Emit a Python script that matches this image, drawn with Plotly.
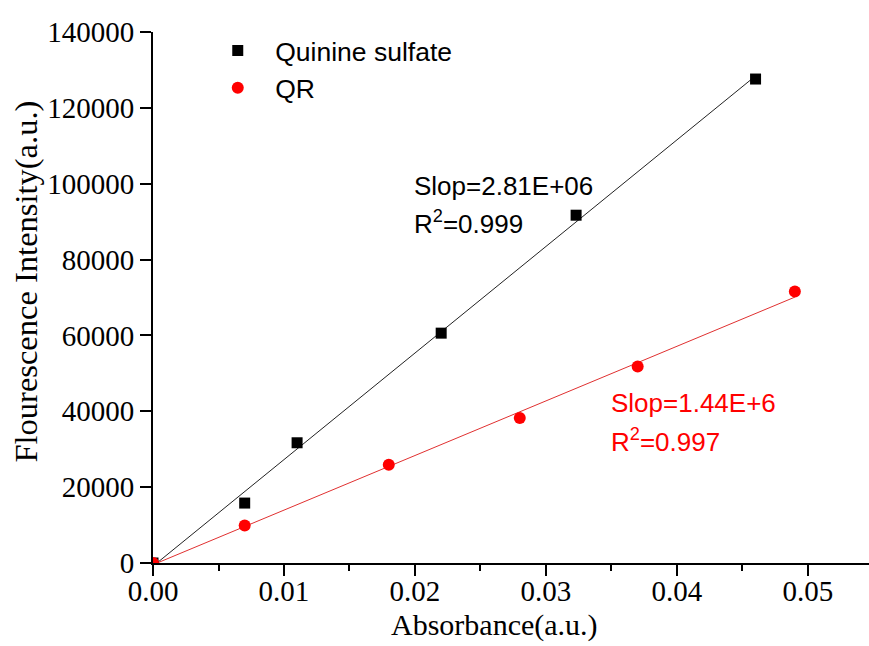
import numpy as np
import plotly.graph_objects as go

# Quinine sulfate reference standard
qs_abs = [0.0, 0.007, 0.011, 0.022, 0.0323, 0.046]
qs_int = [0, 15800, 31700, 60600, 91700, 127600]
qs_slope = 2.81e6
qs_r2 = 0.999

# QR sample
qr_abs = [0.0, 0.007, 0.018, 0.028, 0.037, 0.049]
qr_int = [0, 9900, 25900, 38200, 51800, 71600]
qr_slope = 1.44e6
qr_r2 = 0.997

x_ticks = [0.00, 0.01, 0.02, 0.03, 0.04, 0.05]
y_ticks = [0, 20000, 40000, 60000, 80000, 100000, 120000, 140000]

SERIF = "Liberation Serif"
SANS = "Liberation Sans"
RED = "#ff0000"


def fit_line(xs, ys, slope):
    """Line with the stated slope, intercept by least squares, over the data span."""
    xs = np.asarray(xs, float)
    ys = np.asarray(ys, float)
    b = ys.mean() - slope * xs.mean()
    xl = np.array([xs.min(), xs.max()])
    return xl, slope * xl + b


fig = go.Figure()

lx, ly = fit_line(qs_abs, qs_int, qs_slope)
fig.add_trace(go.Scatter(x=lx, y=ly, mode="lines", line=dict(color="#222222", width=1),
                         showlegend=False, hoverinfo="skip"))
lx, ly = fit_line(qr_abs, qr_int, qr_slope)
fig.add_trace(go.Scatter(x=lx, y=ly, mode="lines", line=dict(color="#e03030", width=1),
                         showlegend=False, hoverinfo="skip"))

fig.add_trace(go.Scatter(x=qs_abs, y=qs_int, mode="markers", name="Quinine sulfate",
                         marker=dict(symbol="square", size=11, color="black")))
fig.add_trace(go.Scatter(x=qr_abs, y=qr_int, mode="markers", name="QR",
                         marker=dict(symbol="circle", size=12, color=RED)))

ann_font_black = dict(family=SANS, size=26, color="black")
ann_font_red = dict(family=SANS, size=26, color=RED)
annotations = [
    dict(x=0.01975, y=99500, text=f"Slop={qs_slope:.2E}".replace("E+6", "E+06"),
         font=ann_font_black),
    dict(x=0.01975, y=89800, text=f"R<sup>2</sup>={qs_r2}", font=ann_font_black),
    dict(x=0.0348, y=42300, text="Slop=1.44E+6", font=ann_font_red),
    dict(x=0.0348, y=32400, text=f"R<sup>2</sup>={qr_r2}", font=ann_font_red),
    dict(x=0.477, y=-0.117, xref="paper", yref="paper", text="Absorbance(a.u.)",
         font=dict(family=SERIF, size=30, color="black"), xanchor="center", yanchor="middle"),
    dict(x=-0.178, y=0.5 + (297.5 - 282) / 531, xref="paper", yref="paper",
         text="Flourescence Intensity(a.u.)", textangle=-90,
         font=dict(family=SERIF, size=32.5, color="black"), xanchor="center", yanchor="middle"),
]
for a in annotations[:4]:
    a.update(xanchor="left", yanchor="middle", showarrow=False)
for a in annotations[4:]:
    a.update(showarrow=False)

axis_common = dict(
    showline=True, linecolor="black", linewidth=2, mirror=False,
    showgrid=False, zeroline=False,
    ticks="outside", ticklen=11, tickwidth=2, tickcolor="black",
    tickfont=dict(family=SERIF, size=29, color="black"),
)

fig.update_layout(
    width=869, height=646,
    margin=dict(l=153, r=0, t=32, b=83),
    paper_bgcolor="white", plot_bgcolor="white",
    xaxis=dict(range=[0, 0.05466], tickvals=x_ticks, tickformat=".2f",
               ticklabelstandoff=-10,
               minor=dict(ticks="outside", ticklen=6, tickwidth=2, tickcolor="black", dtick=0.005),
               **axis_common),
    yaxis=dict(range=[0, 140000], tickvals=y_ticks, tickformat="d", **axis_common),
    legend=dict(x=0.066, y=1.01, xanchor="left", yanchor="top", bgcolor="rgba(0,0,0,0)",
                font=dict(family=SANS, size=26.5, color="black"), itemwidth=65,
                tracegroupgap=0),
    annotations=annotations,
)

fig.write_html("out.html")
